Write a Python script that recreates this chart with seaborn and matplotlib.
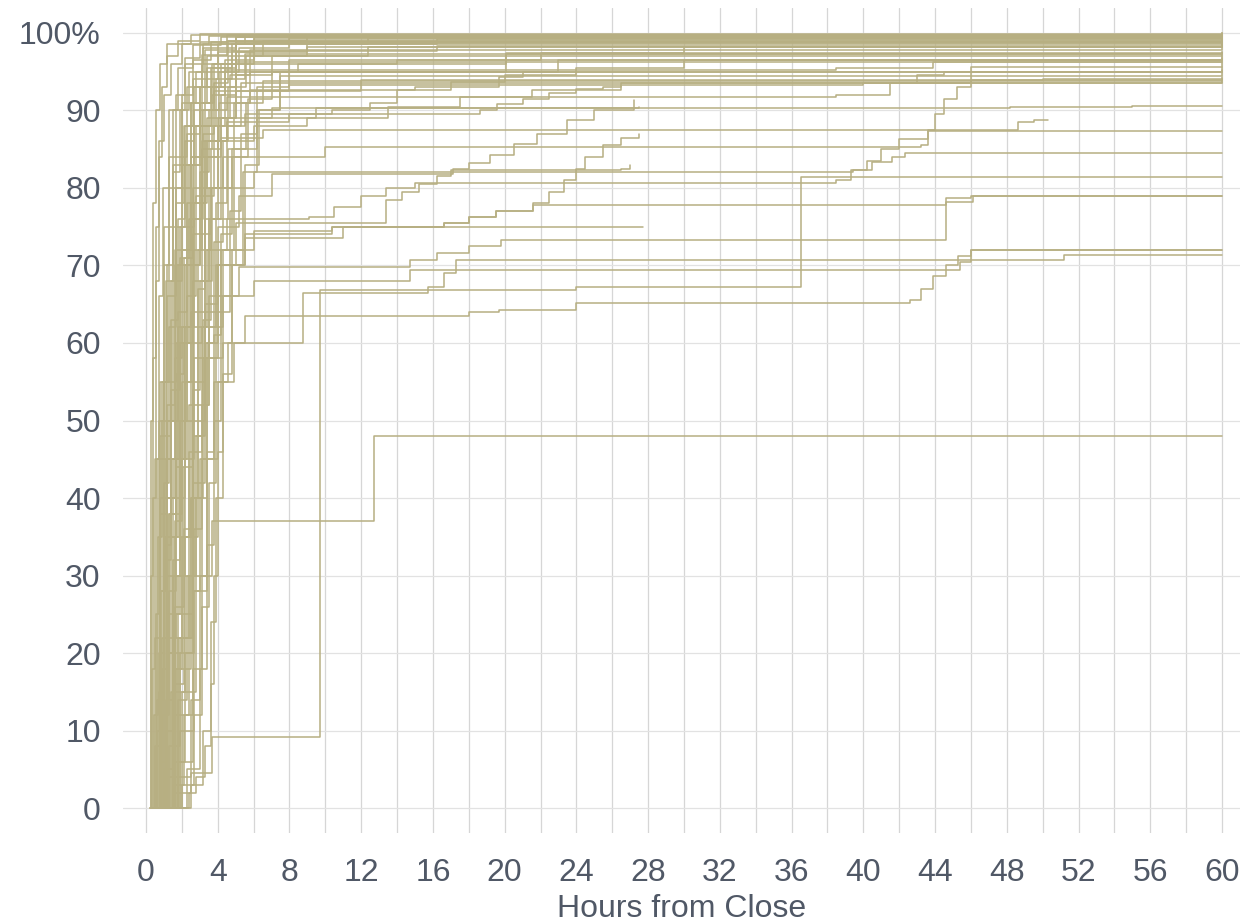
import matplotlib

matplotlib.use("Agg")

import matplotlib.pyplot as plt
import pandas as pd
import seaborn as sns


OUTPUT_PATH = "out.png"

LINE_COLOR = "#b7af82"
GRID_COLOR = "#d6d6d6"
TEXT_COLOR = "#505866"

HOUR_TICKS = list(range(0, 61, 4))
PCT_TICKS = list(range(0, 101, 10))
PCT_LABELS = ["0", "10", "20", "30", "40", "50", "60", "70", "80", "90", "100%"]

# counties that finished counting within a few hours of close: (hours, % reported)
fast_counties = [
    [(0.2, 0), (0.3, 30), (0.4, 58), (0.55, 75), (0.75, 86), (1.0, 92), (1.4, 96), (2.0, 98.5), (3.5, 99.6), (60, 99.8)],
    [(0.25, 0), (0.35, 18), (0.5, 45), (0.7, 66), (0.95, 80), (1.3, 90), (1.8, 95.5), (2.6, 98.4), (4.2, 99.5), (60, 100)],
    [(0.3, 0), (0.45, 12), (0.65, 35), (0.9, 55), (1.2, 70), (1.5, 82), (1.9, 90), (2.4, 95), (3.2, 98), (5, 99.4), (60, 99.7)],
    [(0.35, 0), (0.5, 8), (0.8, 28), (1.1, 48), (1.4, 63), (1.8, 76), (2.2, 86), (2.7, 93), (3.4, 97), (4.5, 99), (60, 99.5)],
    [(0.4, 0), (0.6, 10), (0.9, 22), (1.2, 40), (1.6, 58), (2.0, 72), (2.5, 84), (3.0, 91), (3.6, 95.5), (4.8, 98.6), (60, 99.4)],
    [(0.45, 0), (0.7, 15), (1.0, 32), (1.4, 50), (1.8, 64), (2.3, 78), (2.8, 88), (3.3, 94), (4.0, 97.5), (6, 99.2), (60, 99.6)],
    [(0.5, 0), (0.8, 6), (1.2, 20), (1.6, 37), (2.0, 55), (2.5, 70), (3.0, 82), (3.5, 90), (4.1, 95), (5.2, 98), (8, 99.3), (60, 99.5)],
    [(0.55, 0), (0.9, 12), (1.3, 28), (1.7, 45), (2.1, 60), (2.6, 74), (3.1, 85), (3.7, 92), (4.4, 96.5), (6, 98.8), (60, 99.2)],
    [(0.6, 0), (1.0, 5), (1.5, 18), (2.0, 35), (2.4, 52), (2.9, 67), (3.3, 79), (3.8, 88), (4.4, 94), (5.5, 97.3), (60, 97.5)],
    [(0.65, 0), (1.1, 10), (1.6, 26), (2.1, 44), (2.6, 60), (3.1, 74), (3.6, 85), (4.2, 92), (5.0, 96.2), (60, 96.5)],
    [(0.7, 0), (1.2, 4), (1.8, 14), (2.3, 30), (2.8, 48), (3.2, 63), (3.6, 76), (4.0, 86), (4.6, 93), (5.6, 97), (9, 98.2), (60, 98.4)],
    [(0.75, 0), (1.3, 8), (1.9, 22), (2.5, 40), (2.9, 55), (3.3, 68), (3.7, 80), (4.2, 89), (5.0, 94.5), (7, 97), (60, 97.3)],
    [(0.8, 0), (1.5, 3), (2.1, 12), (2.6, 28), (3.0, 45), (3.4, 60), (3.8, 73), (4.3, 84), (4.9, 91), (5.8, 95), (60, 95.2)],
    [(0.85, 0), (1.6, 6), (2.2, 20), (2.7, 36), (3.1, 52), (3.5, 66), (3.9, 78), (4.5, 88), (5.3, 93.5), (60, 94)],
    [(1.0, 0), (1.8, 4), (2.5, 14), (3.0, 30), (3.4, 46), (3.8, 61), (4.2, 74), (4.8, 85), (5.6, 91), (6.5, 93.8), (60, 94)],
    [(0.3, 0), (0.4, 40), (0.55, 68), (0.7, 84), (0.9, 93), (1.2, 97), (1.8, 99), (3, 99.8), (60, 100)],
    [(0.2, 0), (0.28, 50), (0.4, 78), (0.55, 90), (0.8, 96), (1.2, 98.6), (2.5, 99.7), (60, 100)],
    [(0.4, 0), (0.55, 25), (0.75, 50), (1.0, 70), (1.3, 84), (1.7, 92), (2.2, 96.8), (3, 98.8), (4.5, 99.7), (60, 99.9)],
    [(0.5, 0), (0.7, 20), (1.0, 42), (1.3, 62), (1.7, 78), (2.1, 88), (2.6, 94), (3.3, 97.8), (5, 99.4), (60, 99.8)],
    [(0.6, 0), (0.9, 18), (1.3, 38), (1.7, 56), (2.1, 71), (2.6, 83), (3.1, 91), (3.8, 96), (5, 98.5), (12.4, 99.3), (60, 99.5)],
    [(0.7, 0), (1.1, 14), (1.5, 32), (1.9, 50), (2.3, 66), (2.8, 79), (3.3, 88), (3.9, 94), (4.8, 97.6), (16.2, 98.3), (60, 98.4)],
    [(1.1, 0), (2.0, 3), (2.7, 12), (3.1, 26), (3.5, 42), (3.9, 58), (4.3, 72), (4.9, 84), (5.7, 91.5), (7, 95), (20.1, 97.4), (60, 97.5)],
    [(1.3, 0), (2.3, 5), (3.0, 18), (3.4, 34), (3.8, 50), (4.2, 64), (4.7, 77), (5.3, 87), (6.2, 93), (8, 96.5), (60, 97)],
    [(1.5, 0), (2.5, 3), (3.2, 10), (3.6, 24), (3.9, 40), (4.3, 56), (4.8, 70), (5.4, 82), (6.2, 90), (7.5, 95), (60, 96.2)],
    [(0.3, 0), (0.5, 22), (0.8, 48), (1.1, 68), (1.5, 83), (2.0, 92), (2.6, 96.5), (3.6, 98.8), (60, 99.6)],
    [(0.55, 0), (0.85, 28), (1.2, 52), (1.6, 70), (2.0, 83), (2.5, 91), (3.1, 96), (4.0, 98.5), (6, 99.5), (60, 99.8)],
    [(0.75, 0), (1.2, 22), (1.7, 44), (2.2, 62), (2.7, 76), (3.2, 87), (3.8, 93.5), (4.6, 97), (6.5, 98.9), (60, 99.3)],
    [(0.95, 0), (1.5, 16), (2.1, 36), (2.6, 54), (3.0, 68), (3.5, 80), (4.0, 89), (4.7, 94.5), (5.8, 97.8), (60, 98.8)],
    [(2.0, 0), (2.4, 2), (2.8, 4), (3.3, 8), (3.6, 16), (3.8, 30), (4.0, 46), (4.3, 60), (4.8, 72), (5.5, 83), (6.3, 90), (7.5, 94.4), (60, 95)],
    [(0.35, 0), (0.6, 14), (1.0, 34), (1.4, 54), (1.9, 71), (2.4, 83), (3.0, 91), (3.7, 96), (5, 98.7), (60, 99.5)],
    [(0.3, 0), (0.6, 45), (1.0, 75), (1.5, 90), (2.2, 96), (3.2, 98.6), (5.5, 99.4), (25, 99.7), (60, 99.8)],
    [(0.45, 0), (0.8, 38), (1.2, 66), (1.7, 84), (2.3, 93), (3.1, 97.2), (4.6, 98.9), (9, 99.4), (60, 99.6)],
    [(0.4, 0), (1.0, 55), (1.7, 80), (2.5, 91), (3.4, 95.5), (5, 97.5), (9, 98.5), (16.2, 99.2), (60, 99.4)],
]

# counties that crept up through the first day
creeping_counties = [
    [(0.6, 0), (1.4, 40), (2.2, 70), (3.0, 84), (4.0, 88), (5.5, 89.5), (10.4, 90), (12.5, 91), (14, 92.6), (17, 93.7),
     (20, 94.6), (24, 95.5), (30, 96.5), (60, 96.5)],
    [(0.8, 0), (1.6, 35), (2.5, 64), (3.3, 80), (4.3, 86), (6, 88), (9, 89), (13.5, 90.5), (17.5, 91.7), (21.5, 92.6),
     (26.5, 93.5), (60, 93.7)],
    [(0.5, 0), (1.2, 50), (1.9, 75), (2.7, 88), (3.6, 93), (5, 95), (8.5, 96), (14, 96.5), (22, 97.4), (30, 98.2), (60, 98.4)],
    [(0.7, 0), (1.5, 45), (2.3, 72), (3.1, 86), (4.1, 91), (5.8, 92.6), (15, 93), (19.7, 94.3), (21, 95), (23, 96.5), (60, 96.8)],
    [(0.9, 0), (1.8, 30), (2.7, 58), (3.5, 76), (4.6, 85), (6.2, 89), (9.5, 90.3), (27.5, 90.5)],
]

# counties that stalled below full count for a day or more
slow_counties = [
    [(0.5, 0), (1.5, 2), (2.5, 4.5), (3.7, 9.2), (9.7, 66.8), (24, 67.2), (36.5, 81.4), (60, 81.4)],
    [(0.8, 0), (1.8, 6), (2.6, 18), (3.1, 30), (3.7, 37), (12.7, 48), (60, 48)],
    [(0.7, 0), (1.6, 12), (2.4, 30), (3.1, 45), (3.8, 55), (4.6, 60), (5.5, 63.5), (18, 64), (19.7, 64.3), (24, 65.2),
     (42.6, 65.5), (43.2, 67), (43.9, 68.6), (44.6, 70), (45.3, 71.2), (46, 72), (60, 72)],
    [(0.9, 0), (1.9, 10), (2.7, 28), (3.4, 45), (4.0, 55), (4.9, 60), (8.75, 66.5), (15.7, 67.2), (16.6, 69),
     (17.3, 70.7), (51.2, 71.4), (60, 71.4)],
    [(0.6, 0), (1.4, 15), (2.2, 35), (2.9, 52), (3.5, 62), (4.3, 66), (6, 68), (14.7, 69.4), (45.4, 70.5), (46, 72), (60, 72)],
    [(0.8, 0), (1.7, 18), (2.5, 40), (3.2, 58), (3.9, 66), (5.2, 69.8), (14.7, 70.7), (16.2, 71.6), (18, 72.5),
     (19.8, 73.3), (44.6, 78.7), (46, 79), (60, 79)],
    [(1.0, 0), (1.9, 20), (2.6, 42), (3.3, 60), (4.0, 70), (5.5, 74), (10.4, 75), (16.6, 75.5), (18, 76.3), (19.5, 77),
     (21.6, 77.8), (44.6, 78.2), (46.1, 79), (60, 79)],
    [(0.6, 0), (1.3, 20), (2.0, 45), (2.7, 62), (3.4, 72), (4.5, 76), (9.1, 76.3), (10.5, 77.5), (12, 79), (13.4, 80),
     (15, 80.6), (38.5, 81), (39.3, 82.3), (40.5, 83.3), (41.6, 84), (42.3, 84.5), (60, 84.5)],
    [(0.5, 0), (1.2, 25), (1.9, 50), (2.6, 68), (3.3, 76), (4.2, 80), (6, 82), (39.4, 82.3), (40.2, 83.5), (41, 85),
     (42, 86.3), (43.6, 87.4), (60, 87.4)],
    [(0.9, 0), (1.8, 22), (2.6, 48), (3.3, 65), (4.0, 75), (5.2, 79), (7, 81.8), (17.1, 82.5), (18, 83.2), (19.2, 84.3),
     (20.5, 85.6), (21.8, 86.9), (23.5, 88.8), (25, 90), (27.2, 91.4)],
    [(0.7, 0), (1.5, 30), (2.2, 55), (2.9, 72), (3.6, 80), (4.8, 84), (10, 85.3), (43.2, 85.5), (43.6, 87.5),
     (44, 89.5), (44.5, 91.5), (45.2, 93), (46, 93.9), (60, 94)],
    [(0.4, 0), (1.0, 35), (1.7, 60), (2.4, 76), (3.1, 84), (4.2, 86.5), (6.5, 87.5), (48.6, 88.5), (49.5, 88.7), (50.3, 88.7)],
    [(0.6, 0), (1.3, 38), (2.0, 62), (2.7, 78), (3.4, 86), (4.5, 89), (7, 90.3), (48.2, 90.5), (55, 90.6), (60, 90.6)],
    [(0.5, 0), (1.1, 45), (1.8, 70), (2.5, 84), (3.2, 90), (4.5, 91.7), (38.5, 92), (41.5, 93.5), (43, 94.5), (44.5, 95), (60, 95)],
    [(0.3, 0), (0.8, 40), (1.4, 68), (2.0, 83), (2.7, 90), (3.8, 92.5), (8, 93.3), (40, 93.5), (46, 95.6), (60, 95.6)],
    [(0.6, 0), (1.2, 30), (1.9, 60), (2.6, 80), (3.4, 89), (5, 92.5), (12, 93.9), (50, 94.1), (60, 94.3)],
    [(0.4, 0), (0.9, 50), (1.5, 75), (2.2, 88), (3.0, 93), (4.4, 95.2), (38.5, 95.5), (43.9, 96.3), (60, 96.3)],
    [(0.35, 0), (0.8, 55), (1.3, 80), (2.0, 91), (2.8, 95), (5, 96), (20.1, 97.3), (60, 97.4)],
    [(1.1, 0), (2.0, 15), (2.8, 40), (3.4, 58), (4.0, 70), (5.0, 75.5), (13.4, 78.5), (14.3, 79.5), (15.2, 80.5),
     (16.2, 81.5), (17, 82.3), (24, 82.5), (24.5, 84), (25.5, 85.5), (26.5, 86.5), (27.5, 87)],
    [(0.5, 0), (1.1, 35), (1.8, 62), (2.5, 78), (3.3, 86), (4.5, 88.5), (8, 89.5), (18.6, 90), (19.6, 90.8), (21, 91.5),
     (22.5, 92.2), (24, 92.7), (25.5, 93), (26.5, 93.2)],
    [(0.8, 0), (1.6, 22), (2.4, 46), (3.1, 62), (3.9, 70), (5.5, 73.5), (11, 75), (16.6, 75.5), (18, 76.2), (19.5, 77),
     (21.6, 78), (22.5, 79.5), (23.3, 81), (24, 82.3), (26.5, 82.5), (27, 83)],
    [(0.9, 0), (1.7, 25), (2.6, 50), (3.3, 64), (4.2, 72), (6, 74.5), (10.4, 75), (27.7, 75)],
    [(0.45, 0), (1.0, 45), (1.6, 72), (2.3, 87), (3.0, 93), (4.2, 96), (6, 97), (12.4, 98.2), (60, 98.3)],
]


def main() -> None:
    rows = []
    for i, county in enumerate(fast_counties + creeping_counties + slow_counties):
        for hours, pct in county:
            rows.append({"county": i, "hours": hours, "pct": pct})
    df = pd.DataFrame(rows)

    sns.set_theme(style="white")
    plt.rcParams["font.family"] = ["Liberation Sans", "DejaVu Sans"]

    fig = plt.figure(figsize=(12.5, 9.23), dpi=100)
    ax = fig.add_axes([0.0984, 0.0975, 0.8936, 0.8938])

    sns.lineplot(
        data=df,
        x="hours",
        y="pct",
        units="county",
        estimator=None,
        color=LINE_COLOR,
        linewidth=1.1,
        drawstyle="steps-post",
        sort=False,
        legend=False,
        ax=ax,
    )

    ax.set_xlim(-1.28, 61.0)
    ax.set_ylim(-3.2, 103.2)
    ax.set_xticks(HOUR_TICKS)
    ax.set_xticks(list(range(2, 61, 4)), minor=True)
    ax.set_yticks(PCT_TICKS)
    ax.set_yticklabels(PCT_LABELS)

    ax.set_axisbelow(True)
    ax.grid(True, which="both", axis="x", color=GRID_COLOR, linewidth=0.9)
    ax.grid(True, which="major", axis="y", color="#e2e2e2", linewidth=0.9)
    for side in ["top", "right", "bottom", "left"]:
        ax.spines[side].set_visible(False)

    ax.tick_params(axis="both", which="both", length=0, labelsize=23, labelcolor=TEXT_COLOR)
    ax.tick_params(axis="x", pad=18)
    ax.tick_params(axis="y", pad=16)

    ax.set_xlabel("Hours from Close", fontsize=23, color=TEXT_COLOR, labelpad=4)
    ax.set_ylabel("")

    fig.savefig(OUTPUT_PATH, dpi=100)


if __name__ == "__main__":
    main()
